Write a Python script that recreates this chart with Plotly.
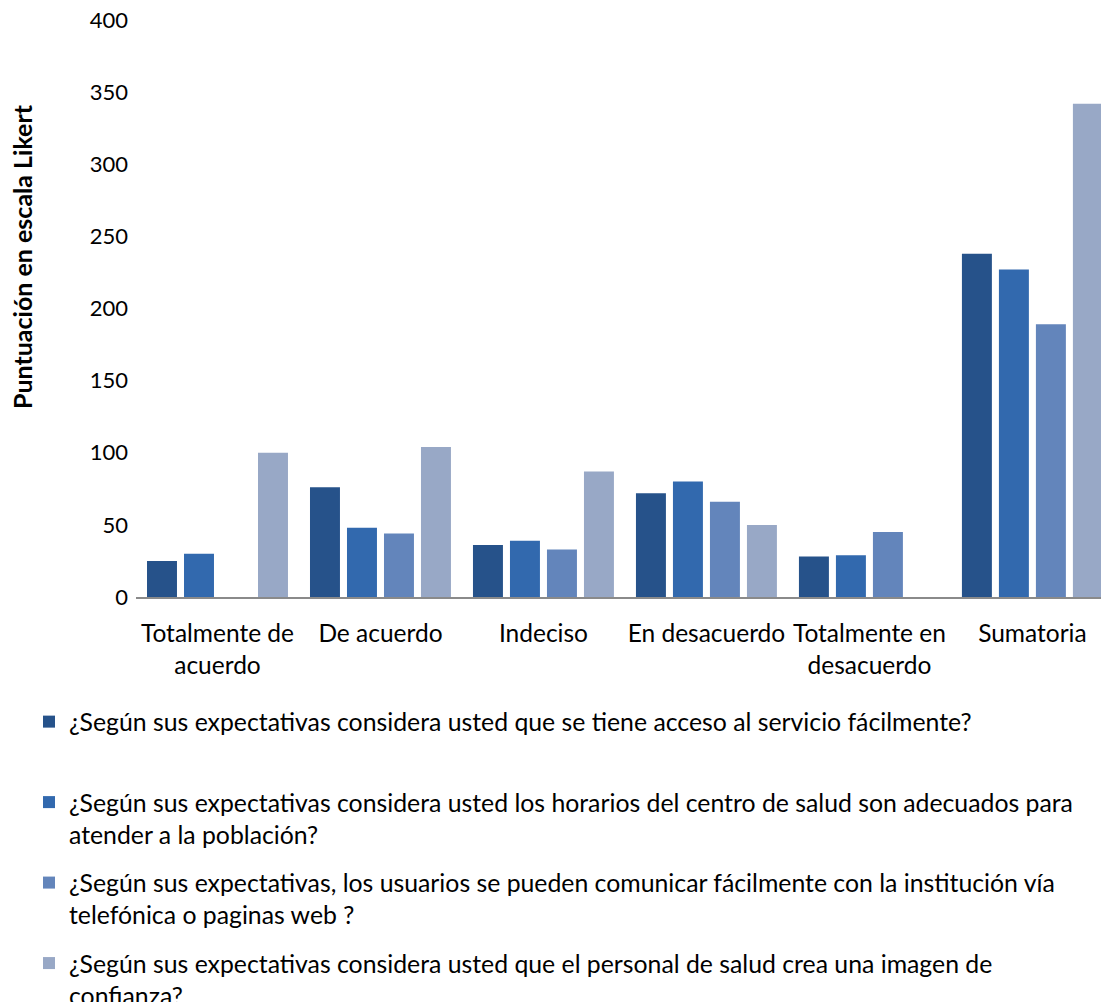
import plotly.graph_objects as go

categories = ["Totalmente de<br>acuerdo", "De acuerdo", "Indeciso", "En desacuerdo",
              "Totalmente en<br>desacuerdo", "Sumatoria"]

series_names = [
    "¿Según sus expectativas considera usted que se tiene acceso al servicio fácilmente?<br> ",
    "¿Según sus expectativas considera usted los horarios del centro de salud son adecuados para<br>atender a la población?",
    "¿Según sus expectativas, los usuarios se pueden comunicar fácilmente con la institución vía<br>telefónica o paginas web ?",
    "¿Según sus expectativas considera usted que el personal de salud crea una imagen de<br>confianza?",
]

acceso = [25, 76, 36, 72, 28, 238]
horarios = [30, 48, 39, 80, 29, 227]
comunicacion = [0, 44, 33, 66, 45, 189]
confianza = [100, 104, 87, 50, 0, 342]

series_values = [acceso, horarios, comunicacion, confianza]
colors = ["#26528a", "#3269ae", "#6385bb", "#98a8c6"]

FONT = "Lato"
W, H = 1101, 994          # page has an 8px body margin
PL, PR, PT, PB = 128, 1101, 12, 589

fig = go.Figure()
for i, (name, vals) in enumerate(zip(series_names, series_values)):
    fig.add_trace(go.Bar(
        x=categories, y=vals, name=name, legendgroup=f"g{i}",
        marker=dict(color=colors[i], line=dict(width=0)),
    ))

fig.update_layout(
    width=W, height=H,
    margin=dict(l=PL, r=W - PR, t=PT, b=H - PB, autoexpand=False),
    paper_bgcolor="white", plot_bgcolor="white",
    barmode="group", bargap=0.092, bargroupgap=0.19,
    font=dict(family=FONT, color="#000000"),
    showlegend=True,
    legend=dict(
        xref="container", yref="container",
        x=21 / W, y=1 - 691 / H, xanchor="left", yanchor="top",
        orientation="v", traceorder="grouped", valign="top",
        tracegroupgap=13,
        font=dict(family=FONT, size=24.8, color="#000000"),
    ),
    xaxis=dict(
        range=[-0.5, 5.47], showgrid=False, showline=True,
        linecolor="#8a8a8a", linewidth=2, ticks="", tickangle=0,
        ticklabelstandoff=14,
        tickfont=dict(family=FONT, size=24.5, color="#000000"),
    ),
    yaxis=dict(
        range=[0, 400], dtick=50, showgrid=False, showline=False,
        zeroline=False, ticks="", ticklabelstandoff=7,
        ticklabeloverflow="allow",
        tickfont=dict(family=FONT, size=22, color="#000000"),
    ),
    annotations=[dict(
        text="<b>Puntuación en escala Likert</b>", textangle=-90,
        xref="paper", yref="paper",
        x=(14 - PL) / (PR - PL), y=(PB - 249) / (PB - PT),
        xanchor="center", yanchor="middle",
        showarrow=False, font=dict(family=FONT, size=25, color="#000000"),
    )],
)

fig.write_html("out.html")
